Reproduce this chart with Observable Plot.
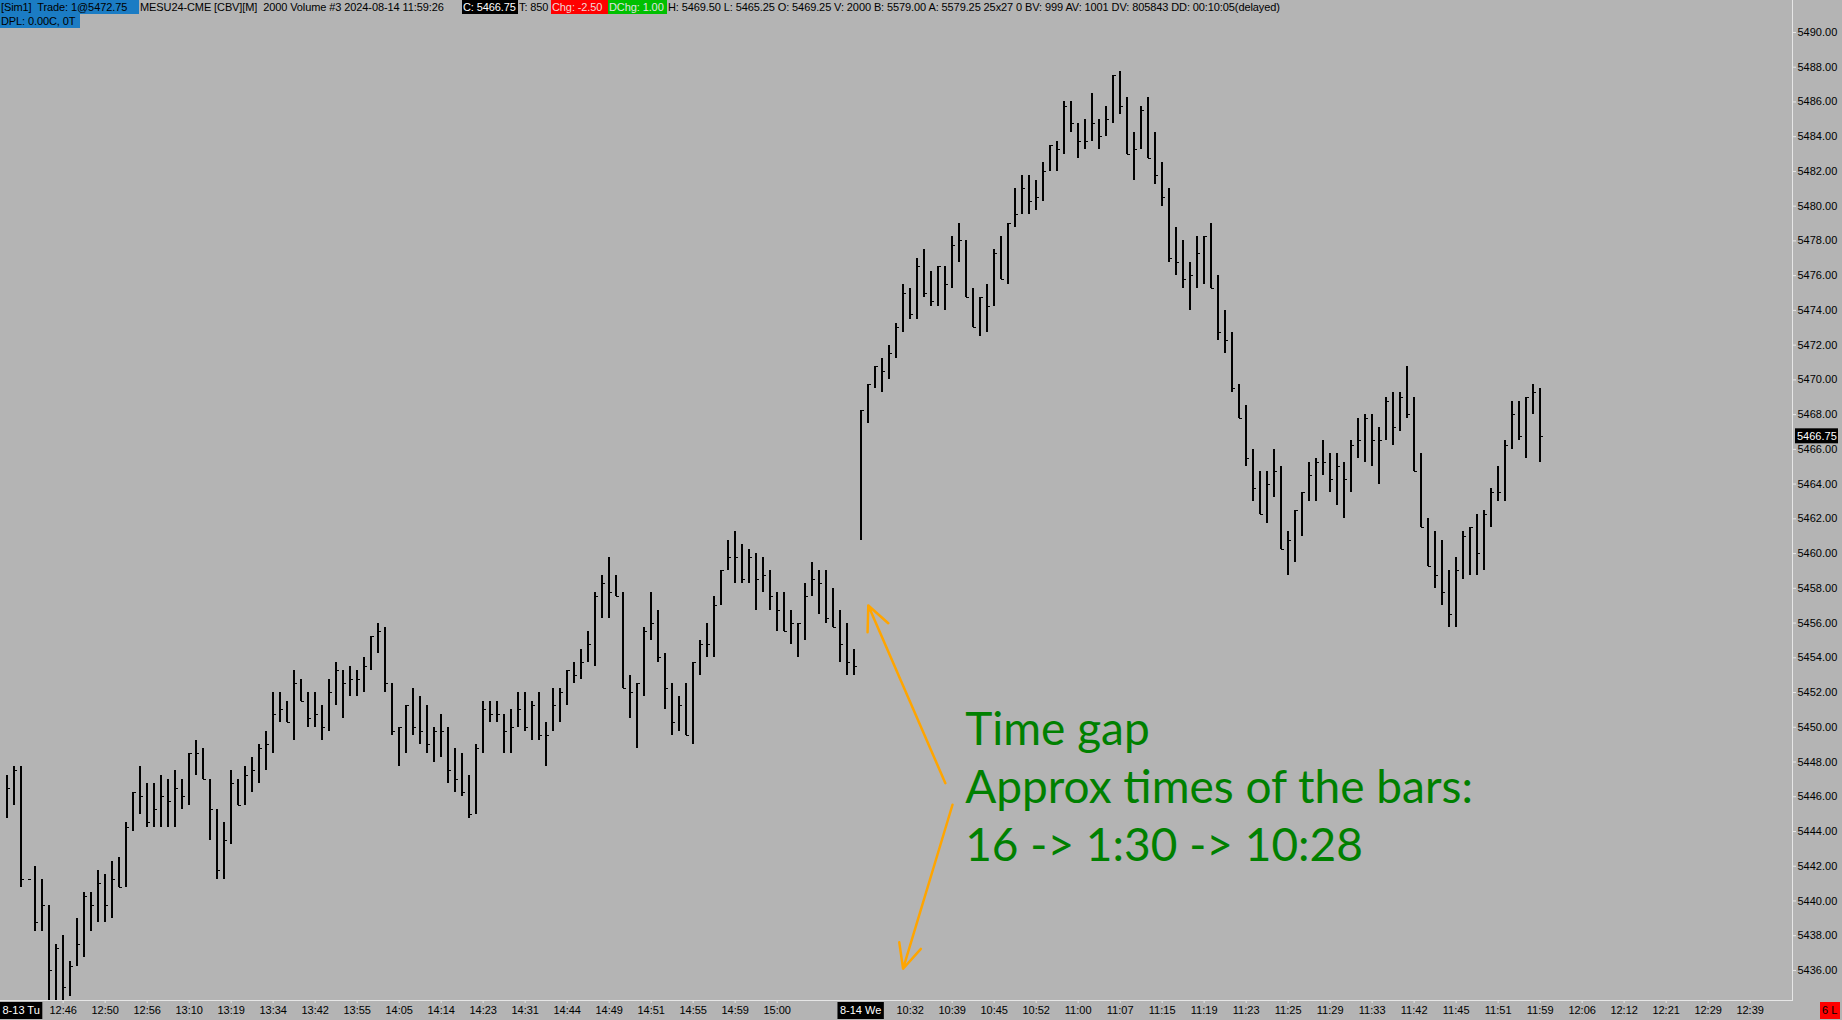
<!DOCTYPE html>
<html><head><meta charset="utf-8">
<script src="https://cdn.jsdelivr.net/npm/d3@7"></script>
<script src="https://cdn.jsdelivr.net/npm/@observablehq/plot@0.6"></script>
<style>
html,body{margin:0;padding:0;background:#b4b4b4;overflow:hidden}
#wrap{position:relative;width:1842px;height:1020px}
#hdr{position:absolute;left:0;top:0;width:1842px;height:28px;font:11px "Liberation Sans",Arial,sans-serif;color:#000;letter-spacing:-0.1px}
#hdr span{position:absolute;height:14px;line-height:14px;padding-left:1px;box-sizing:border-box;white-space:pre;overflow:hidden}
</style></head><body>
<div id="wrap"><div id="hdr"></div></div>
<script>
// ---- data ----
const high = [5447.25,5447.75,5447.75,5441.25,5442,5441.25,5439.75,5437.5,5438,5436.5,5439,5440.5,5440.5,5441.75,5441.5,5442.25,5442.5,5444.5,5446.25,5447.75,5446.75,5446.75,5447.25,5447,5447.5,5447,5448.5,5449.25,5448.75,5447,5445.25,5444.5,5447.5,5447,5447.75,5448.25,5449,5449.75,5452,5452,5451.5,5453.25,5452.75,5452,5452,5451.25,5452.75,5453.75,5453.25,5453.5,5453.25,5454,5455.25,5456,5455.75,5452.5,5450,5451.25,5452.25,5451.75,5451.25,5450,5450.75,5450,5448.75,5448.5,5447.25,5449,5451.5,5451.5,5451.5,5450.75,5451,5452,5452,5451.5,5452,5450.25,5452.25,5452.25,5453.25,5453.75,5454.5,5455.5,5457.75,5458.75,5459.75,5458.75,5457.75,5453,5452.5,5455.75,5457.75,5456.75,5454.25,5452.5,5451.75,5452.5,5453.75,5455,5456,5457.5,5459,5460.75,5461.25,5460.5,5460.25,5460,5459.75,5459,5457.75,5457.75,5456.75,5456,5458.25,5459.5,5459,5459,5458,5456.75,5456,5454.5,5468.25,5469.75,5470.75,5471.25,5472,5473.25,5475.5,5475.25,5477,5477.5,5476.25,5476.5,5476.5,5478.25,5479,5478,5475.25,5474.75,5475.5,5477.5,5478.25,5479,5481,5481.75,5481.75,5481.5,5482.5,5483.5,5483.75,5486,5486,5484.75,5485,5486.5,5485,5485.75,5487.5,5487.75,5486.25,5484.25,5485.75,5486.25,5484.25,5482.5,5481,5478.75,5478,5476.75,5478.25,5478.25,5479,5476,5474,5472.75,5469.75,5468.5,5466,5464.75,5464.75,5466,5465,5461.25,5462.5,5463.5,5465.25,5465.5,5466.5,5465.75,5465.75,5465.25,5466.5,5467.75,5468,5468,5467.25,5469,5469.25,5469.25,5470.75,5469,5465.75,5462,5461.25,5460.75,5459,5459.75,5461.25,5461.5,5462.25,5462.5,5463.75,5465,5466.5,5468.75,5468.75,5469,5469.75,5469.5];
const low = [5444.75,5445.5,5440.75,5441.25,5438.25,5438.25,5434.25,5434.25,5434.25,5434.5,5436.25,5436.75,5438.25,5438.75,5438.75,5439,5440.75,5440.75,5444,5445,5444.25,5444.25,5444.25,5444.25,5444.25,5445.25,5445.5,5447.25,5447,5443.5,5441.25,5441.25,5443.25,5445.5,5445.5,5446.25,5446.75,5447.5,5448.5,5450.25,5450.25,5449.25,5451.5,5450,5450,5449.25,5449.75,5451.25,5450.5,5451.75,5451.75,5452,5453.25,5454.25,5452,5449.5,5447.75,5448.5,5449.5,5449,5448.5,5448,5448.25,5446.75,5446.25,5446,5444.75,5445,5448.5,5450.25,5450.25,5448.5,5448.5,5450,5449.75,5449.25,5449.25,5447.75,5449.75,5450.25,5451.25,5452.5,5452.75,5453.75,5453.5,5456.25,5456.25,5457.5,5452.25,5450.5,5448.75,5451.75,5455,5453.75,5451,5449.5,5449.75,5449.5,5449,5453,5454,5454,5457,5459,5458.25,5458.25,5458.25,5456.75,5457.75,5456.75,5455.5,5455.5,5454.75,5454,5455,5457.5,5456.5,5456,5455.75,5453.75,5453,5453,5460.75,5467.5,5469.5,5469.25,5470,5471.25,5472.75,5473.5,5473.5,5474.75,5474.25,5474.25,5474,5475.25,5476.75,5474.75,5473,5472.5,5472.75,5474.25,5475.75,5475.5,5478.75,5479.5,5479.5,5479.75,5480.25,5482,5482,5483,5484.25,5482.75,5483.25,5483.75,5483.25,5484,5484.75,5485.25,5483,5481.5,5483.25,5482.75,5481.25,5480,5476.75,5476,5475.25,5474,5475.25,5475.5,5475.25,5472.25,5471.5,5469.25,5467.75,5465,5463,5462.25,5461.75,5463.25,5460.25,5458.75,5459.5,5461,5463,5463,5464.5,5463.5,5462.75,5462,5463.5,5465.5,5465.25,5465,5464,5466.5,5466.25,5467,5467.75,5464.75,5461.5,5459.25,5458,5457,5455.75,5455.75,5458.5,5458.75,5458.75,5459,5461.5,5463,5463,5466,5466.5,5465.5,5468,5465.25];
const close = [5446.5,5447.5,5441.25,5441.25,5438.75,5439.75,5436,5437.25,5435,5436.25,5437.5,5440.25,5439.75,5441,5439.75,5441.25,5440.75,5444.25,5446.25,5446,5444.5,5445.25,5446,5445.75,5446.5,5446,5448.5,5448.5,5447,5445.25,5441.75,5443.5,5446.75,5445.5,5447.25,5447.5,5448.75,5449,5450.75,5451,5450.25,5452.5,5451.5,5450.5,5450.75,5450,5452,5453.25,5452.5,5452.75,5452.75,5453.5,5455.25,5455.5,5452.5,5449.75,5450,5451.25,5450,5449.75,5449,5449.75,5449.75,5447.5,5447,5446.25,5445,5448.75,5451,5450.75,5450.75,5449.75,5450,5451,5450,5451.25,5449.5,5449.5,5451.25,5452,5453.25,5453,5453.75,5454.75,5457.5,5458.25,5457.75,5457.5,5452.25,5452,5452.5,5455.5,5456,5454,5452.25,5450.25,5451.25,5449.5,5453.75,5454.75,5454.75,5457,5459,5459.75,5459.75,5458.5,5459.75,5458.5,5458.75,5457.5,5456.75,5455.5,5456,5456,5457.5,5458.5,5458.25,5456.25,5455.75,5454.75,5453.75,5453.5,5468.25,5469.75,5470.75,5470.5,5471.5,5473,5475,5473.75,5476.5,5475,5474.5,5476.5,5475.5,5477.75,5478,5474.75,5473,5474.75,5474.25,5477.25,5475.75,5479,5479.5,5481,5480.25,5480.5,5482,5483.5,5483.25,5485.75,5484.75,5483.75,5483.75,5484.75,5484,5485,5487.5,5485.75,5483,5483.25,5485.5,5482.75,5481.75,5480.5,5477,5476.75,5475.75,5476,5477.25,5478.25,5475.25,5472.75,5472.25,5469.5,5467.75,5465.5,5463.75,5462.25,5464,5464.75,5460.25,5460.75,5462.5,5463.5,5464.5,5465.25,5465.25,5464.25,5465,5464.25,5466.25,5466.5,5467.75,5466.5,5466.5,5468.75,5467.25,5469,5468,5464.75,5461.5,5459.25,5458.75,5457.75,5456.5,5459,5461,5461.5,5460,5462.25,5463.5,5463.5,5466.25,5468,5466.75,5469,5469.25,5466.75];

const tickBars = [8,14,20,26,32,38,44,50,56,62,68,74,80,86,92,98,104,110,129,135,141,147,153,159,165,171,177,183,189,195,201,207,213,219,225,231,237,243,249];
const tickLabels = ["12:46","12:50","12:56","13:10","13:19","13:34","13:42","13:55","14:05","14:14","14:23","14:31","14:44","14:49","14:51","14:55","14:59","15:00","10:32","10:39","10:45","10:52","11:00","11:07","11:15","11:19","11:23","11:25","11:29","11:33","11:42","11:45","11:51","11:59","12:06","12:12","12:21","12:29","12:39"];
const dateBars = [0,122];
const dateLabels = ["8-13 Tu","8-14 We"];
const yTicks = [5436,5438,5440,5442,5444,5446,5448,5450,5452,5454,5456,5458,5460,5462,5464,5466,5468,5470,5472,5474,5476,5478,5480,5482,5484,5486,5488,5490];
const lastPrice = 5466.75;

// annotation (data units: bar index, price)
const noteLines = ["Time gap","Approx times of the bars:","16 -> 1:30 -> 10:28"];
const noteBar = 136.86;
const notePrices = [5449.80,5446.50,5443.14];
const arrowStartBar = [134.03,135.05];
const arrowStartPrice = [5446.78,5445.54];
const arrowEndBar = [123.02,127.99];
const arrowEndPrice = [5457.01,5436.10];

// header segments
const hdrSegs = [
  {t:"[Sim1]  Trade: 1@5472.75", x:0, y:0, w:139, bg:"#1b7cc4", c:"#000"},
  {t:"MESU24-CME [CBV][M]  2000 Volume #3 2024-08-14 11:59:26", x:139, y:0},
  {t:"C: 5466.75", x:462, y:0, w:56, bg:"#000", c:"#fff"},
  {t:"T: 850", x:518, y:0, w:33},
  {t:"Chg: -2.50", x:551, y:0, w:57, bg:"#ff0000", c:"#f2d6d6"},
  {t:"DChg: 1.00", x:608, y:0, w:59, bg:"#00c000", c:"#e2e2e2"},
  {t:"H: 5469.50 L: 5465.25 O: 5469.25 V: 2000 B: 5579.00 A: 5579.25 25x27 0 BV: 999 AV: 1001 DV: 805843 DD: 00:10:05(delayed)", x:667, y:0},
  {t:"DPL: 0.00C, 0T", x:0, y:14, w:80, bg:"#1b7cc4", c:"#000"}
];

// ---- build ----
const bars = high.map((h,i)=>({i, high:h, low:low[i], close:close[i]}));
const notes = noteLines.map((t,k)=>({t, x:noteBar, y:notePrices[k]}));
const arrows = arrowStartBar.map((v,k)=>({x1:v, y1:arrowStartPrice[k], x2:arrowEndBar[k], y2:arrowEndPrice[k]}));
const axisCol = "#e6e6e6";
const uiFont = '"Liberation Sans", Arial, sans-serif';

const chart = Plot.plot({
  width:1842, height:1020,
  marginLeft:0, marginRight:50, marginTop:0, marginBottom:20,
  style:{background:"#b4b4b4", fontFamily:uiFont, fontSize:"11px", color:"#000", overflow:"visible"},
  x:{type:"linear", domain:[-0.953,255.05]},
  y:{domain:[5434.27,5491.84]},
  marks:[
    Plot.frame({anchor:"right", stroke:axisCol}),
    Plot.frame({anchor:"bottom", stroke:axisCol}),
    Plot.axisX({ticks:tickBars, tickFormat:d=>tickLabels[tickBars.indexOf(d)], tickSize:3, tickPadding:3, stroke:axisCol, fill:"#000", label:null, fontSize:11}),
    Plot.axisY({anchor:"right", ticks:yTicks, tickFormat:d=>d.toFixed(2), tickSize:3, tickPadding:2, stroke:axisCol, fill:"#000", label:null, fontSize:11}),
    Plot.ruleX(bars, {x:"i", y1:"low", y2:"high", stroke:"#000", strokeWidth:2, shapeRendering:"crispEdges"}),
    Plot.ruleY(bars, {y:"close", x1:"i", x2:d=>d.i+0.5, stroke:"#000", strokeWidth:1, shapeRendering:"crispEdges"}),
    Plot.arrow(arrows, {x1:"x1", y1:"y1", x2:"x2", y2:"y2", stroke:"#ffa500", strokeWidth:2.5, headLength:16, headAngle:50}),
    Plot.text(notes, {x:"x", y:"y", text:"t", textAnchor:"start", lineAnchor:"middle", fontSize:46, fontFamily:"Lato", fill:"#008000"})
  ]
});

const wrap = document.getElementById("wrap");
wrap.prepend(chart);
chart.style.position = "absolute"; chart.style.left = "0"; chart.style.top = "0";

const svg = d3.select(chart);
const xs = chart.scale("x"), ys = chart.scale("y");

// date boxes on the time axis
dateBars.forEach((b,k)=>{
  const g = svg.append("g").attr("text-anchor","start");
  const t = g.append("text").text(dateLabels[k]).attr("fill","#fff").attr("font-size",11)
    .attr("font-family",uiFont).attr("text-anchor","start").attr("y",1014);
  const w = t.node().getBBox().width + 5;
  const left = Math.max(0, xs.apply(b) - w/2);
  t.attr("x", left + 2.5);
  g.insert("rect","text").attr("x",left).attr("y",1002).attr("width",w).attr("height",17).attr("fill","#000");
});

// last price box
{
  const yv = ys.apply(lastPrice);
  const g = svg.append("g").attr("text-anchor","start");
  g.append("rect").attr("x",1795).attr("y",yv-7.5).attr("width",43).attr("height",15).attr("fill","#000");
  g.append("text").text(lastPrice.toFixed(2)).attr("x",1797).attr("y",yv+4).attr("fill","#fff")
    .attr("text-anchor","start").attr("font-size",11).attr("font-family",uiFont);
}
// status box bottom-right
{
  const g = svg.append("g").attr("text-anchor","start");
  g.append("rect").attr("x",1820).attr("y",1002).attr("width",20).attr("height",17).attr("fill","#ff0000");
  g.append("text").text("6 L").attr("x",1822).attr("y",1014).attr("fill","#000")
    .attr("text-anchor","start").attr("font-size",11).attr("font-family",uiFont);
}

// header overlay
const hdr = document.getElementById("hdr");
wrap.appendChild(hdr);
hdrSegs.forEach(s=>{
  const sp = document.createElement("span");
  sp.textContent = s.t;
  sp.style.left = s.x + "px";
  sp.style.top = s.y + "px";
  if (s.w) sp.style.width = s.w + "px";
  if (s.bg) sp.style.background = s.bg;
  sp.style.color = s.c || "#000";
  hdr.appendChild(sp);
});
</script>
</body></html>
